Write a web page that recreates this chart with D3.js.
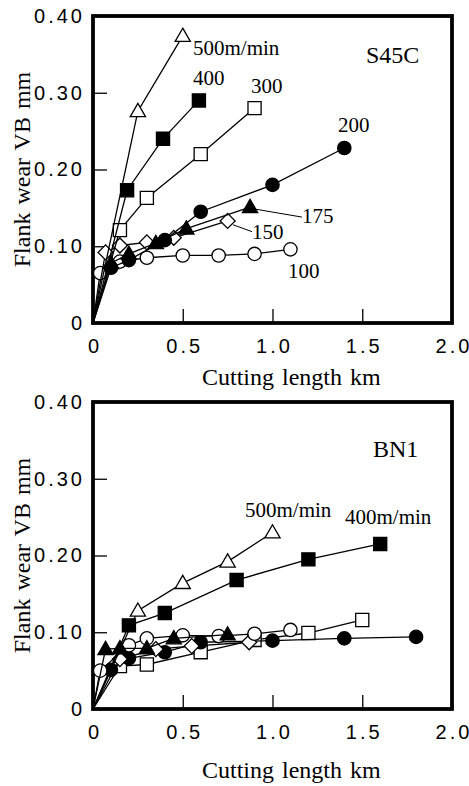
<!DOCTYPE html>
<html>
<head>
<meta charset="utf-8">
<title>Flank wear vs cutting length</title>
<script src="https://cdn.jsdelivr.net/npm/d3@7/dist/d3.min.js"></script>
<style>
body { margin: 0; background: #fff; }
.tick text { font-family: "Liberation Sans", Arial, sans-serif; font-size: 20px; letter-spacing: 3px; fill: #000; }
.ttl { font-family: "Liberation Serif", "Times New Roman", serif; fill: #000; }
</style>
</head>
<body>
<div id="chart"></div>
<script>
// ---- data (cutting length km, flank wear VB mm) ----
var xTicks = [0, 0.5, 1.0, 1.5, 2.0];
var yTicks = [0, 0.10, 0.20, 0.30, 0.40];

// S45C
var s45c_500 = [[0.25, 0.276], [0.5, 0.374]];
var s45c_400 = [[0.19, 0.173], [0.39, 0.24], [0.59, 0.29]];
var s45c_300 = [[0.15, 0.121], [0.3, 0.163], [0.6, 0.22], [0.9, 0.28]];
var s45c_200 = [[0.1, 0.072], [0.2, 0.082], [0.4, 0.108], [0.6, 0.145], [1.0, 0.18], [1.4, 0.228]];
var s45c_175 = [[0.1, 0.078], [0.2, 0.09], [0.35, 0.104], [0.52, 0.123], [0.875, 0.151]];
var s45c_150 = [[0.07, 0.092], [0.15, 0.101], [0.3, 0.105], [0.45, 0.111], [0.75, 0.133]];
var s45c_100 = [[0.04, 0.065], [0.15, 0.08], [0.3, 0.085], [0.5, 0.088], [0.7, 0.088], [0.9, 0.09], [1.1, 0.096]];

// BN1
var bn1_500 = [[0.25, 0.128], [0.5, 0.164], [0.75, 0.192], [1.0, 0.23]];
var bn1_400 = [[0.2, 0.109], [0.4, 0.125], [0.8, 0.168], [1.2, 0.195], [1.6, 0.215]];
var bn1_300 = [[0.15, 0.056], [0.3, 0.058], [0.6, 0.074], [0.9, 0.09], [1.2, 0.099], [1.5, 0.116]];
var bn1_200 = [[0.1, 0.051], [0.2, 0.066], [0.4, 0.074], [0.6, 0.087], [1.0, 0.089], [1.4, 0.092], [1.8, 0.094]];
var bn1_175 = [[0.07, 0.078], [0.15, 0.079], [0.3, 0.079], [0.45, 0.092], [0.75, 0.097]];
var bn1_150 = [[0.15, 0.065], [0.35, 0.078], [0.55, 0.082], [0.87, 0.087]];
var bn1_100 = [[0.04, 0.05], [0.2, 0.083], [0.3, 0.092], [0.5, 0.096], [0.7, 0.095], [0.9, 0.098], [1.1, 0.103]];

// marker per cutting speed
var markers = {
	"500": { shape: "triangle", fill: "#fff" },
	"400": { shape: "square", fill: "#000" },
	"300": { shape: "square", fill: "#fff" },
	"200": { shape: "circle", fill: "#000" },
	"175": { shape: "triangle", fill: "#000" },
	"150": { shape: "diamond", fill: "#fff" },
	"100": { shape: "circle", fill: "#fff" }
};

// annotations, anchored in data units
var s45cLabels = [
	{ t: "500m/min", x: 0.557, y: 0.349 }, { t: "400", x: 0.557, y: 0.31 },
	{ t: "300", x: 0.88, y: 0.30 }, { t: "200", x: 1.365, y: 0.249 },
	{ t: "175", x: 1.164, y: 0.13 }, { t: "150", x: 0.886, y: 0.109 },
	{ t: "100", x: 1.086, y: 0.059 }
];
var s45cLeaders = [[[0.9, 0.1485], [1.164, 0.138]], [[0.78, 0.128], [0.886, 0.119]]];
var bn1Labels = [
	{ t: "500m/min", x: 0.847, y: 0.25 }, { t: "400m/min", x: 1.404, y: 0.241 }
];

var W = 469, H = 786;
var svg = d3.select("#chart").append("svg").attr("width", W).attr("height", H);

var panels = [
	{ top: 16, name: "S45C", nameAt: [1.521, 0.339], labels: s45cLabels, leaders: s45cLeaders, titleDy: 62,
		series: [["100", s45c_100], ["150", s45c_150], ["175", s45c_175], ["200", s45c_200], ["300", s45c_300], ["400", s45c_400], ["500", s45c_500]] },
	{ top: 402, name: "BN1", nameAt: [1.56, 0.328], labels: bn1Labels, leaders: [], titleDy: 69,
		series: [["300", bn1_300], ["200", bn1_200], ["150", bn1_150], ["100", bn1_100], ["175", bn1_175], ["400", bn1_400], ["500", bn1_500]] }
];

var left = 93, right = 452, ph = 307;

function symbolPath(shape) {
	if (shape == "triangle") return d3.symbol().type(d3.symbolTriangle).size(100)();
	if (shape == "square") return d3.symbol().type(d3.symbolSquare).size(172)();
	if (shape == "diamond") return d3.symbol().type(d3.symbolSquare).size(112)();
	return d3.symbol().type(d3.symbolCircle).size(140)();
}

panels.forEach(function(p) {
	var x = d3.scaleLinear().domain([0, 2.0]).range([left, right]);
	var y = d3.scaleLinear().domain([0, 0.40]).range([p.top + ph, p.top]);
	var g = svg.append("g");

	// axes with inward ticks
	var xa = g.append("g").attr("transform", "translate(0," + (p.top + ph) + ")")
		.call(d3.axisBottom(x).tickValues(xTicks).tickSizeInner(-14).tickSizeOuter(0).tickPadding(16)
			.tickFormat(function(d) { return d == 0 ? "0" : d3.format(".1f")(d); }));
	var ya = g.append("g").attr("transform", "translate(" + left + ",0)")
		.call(d3.axisLeft(y).tickValues(yTicks).tickSizeInner(-14).tickSizeOuter(0).tickPadding(8)
			.tickFormat(function(d) { return d == 0 ? "0" : d3.format(".2f")(d); }));
	[xa, ya].forEach(function(a) {
		a.select(".domain").remove();
		a.selectAll(".tick line").attr("stroke", "#000").attr("stroke-width", 1.3);
	});
	xa.selectAll(".tick text").attr("dx", "1.5px");

	// frame
	g.append("rect").attr("x", left).attr("y", p.top).attr("width", right - left).attr("height", ph)
		.attr("fill", "none").attr("stroke", "#000").attr("stroke-width", 3.8);

	var line = d3.line().x(function(d) { return x(d[0]); }).y(function(d) { return y(d[1]); });

	p.series.forEach(function(s) {
		var m = markers[s[0]];
		var pts = s[1];
		g.append("path").attr("d", line([[0, 0]].concat(pts)))
			.attr("fill", "none").attr("stroke", "#000").attr("stroke-width", 1.3);
		g.selectAll(null).data(pts).enter().append("path")
			.attr("d", symbolPath(m.shape))
			.attr("transform", function(d) {
				return "translate(" + x(d[0]) + "," + y(d[1]) + ")" + (m.shape == "diamond" ? " rotate(45)" : "")
					+ (m.shape == "triangle" ? " translate(0,1)" : "");
			})
			.attr("fill", m.fill).attr("stroke", "#000").attr("stroke-width", 1.3);
	});

	p.leaders.forEach(function(l) {
		g.append("path").attr("d", line(l)).attr("fill", "none").attr("stroke", "#000").attr("stroke-width", 1);
	});

	g.selectAll(null).data(p.labels).enter().append("text").attr("class", "ttl")
		.attr("x", function(d) { return x(d.x); }).attr("y", function(d) { return y(d.y); })
		.style("font-size", "21px").text(function(d) { return d.t; });

	g.append("text").attr("class", "ttl").attr("x", x(p.nameAt[0])).attr("y", y(p.nameAt[1]))
		.style("font-size", "24px").text(p.name);

	// axis titles
	g.append("text").attr("class", "ttl").attr("x", 202).attr("y", p.top + ph + p.titleDy)
		.style("font-size", "24px").style("word-spacing", "2px").text("Cutting length km");
	g.append("text").attr("class", "ttl")
		.attr("transform", "translate(30," + (p.top + ph / 2) + ") rotate(-90)")
		.attr("text-anchor", "middle").style("font-size", "24px").style("word-spacing", "2px")
		.text("Flank wear VB mm");
});
</script>
</body>
</html>
